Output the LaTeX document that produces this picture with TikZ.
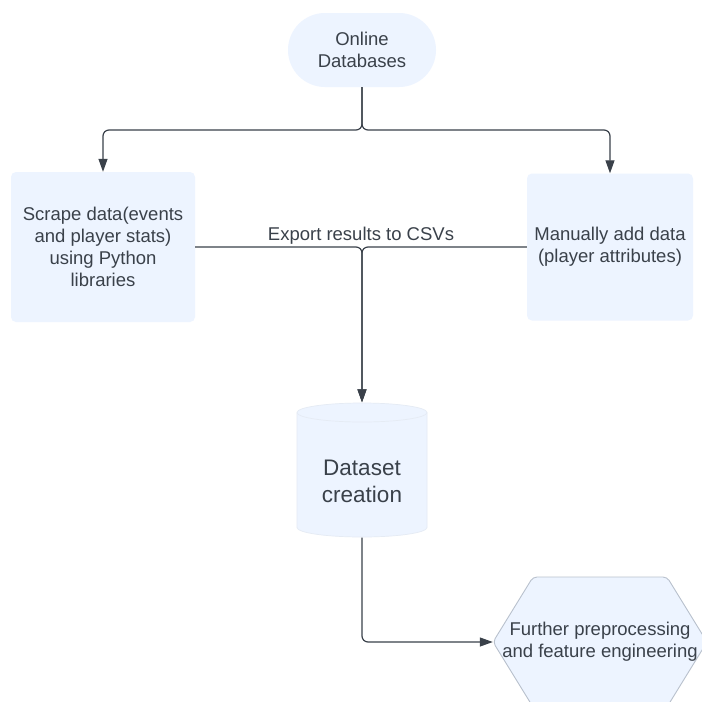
\documentclass[tikz,border=0pt]{standalone}
\usepackage{fontspec}
\setmainfont{Liberation Sans}
\usetikzlibrary{arrows.meta,calc}
\definecolor{boxfill}{RGB}{237,244,255}
\definecolor{ink}{RGB}{58,65,74}
\definecolor{hexline}{RGB}{185,193,205}
\definecolor{cylline}{RGB}{229,235,244}
\begin{document}
\begin{tikzpicture}[x=1pt,y=-1pt,
  every node/.style={font=\fontsize{18.5}{22}\selectfont, text=ink, align=center},
  conn/.style={draw=ink, line width=1.2pt, rounded corners=6pt},
  arr/.style={-{Triangle[length=13pt,width=9pt]}},
  procbox/.style={fill=boxfill, rounded corners=5pt, inner sep=0pt},
  bigtext/.style={font=\fontsize{22.5}{27}\selectfont},
  cylcap/.style={x radius=65pt, y radius=9.5pt},
]
\useasboundingbox[fill=white] (0,0) rectangle (702,702);

\node[procbox, rounded corners=37pt, minimum width=148pt, minimum height=74pt] (db) at (362,50) {Online\\Databases};
\node[procbox, minimum width=184pt, minimum height=150pt] (lbox) at (103,247) {Scrape data(events\\and player stats)\\using Python\\libraries};
\node[procbox, minimum width=166pt, minimum height=147pt] (rbox) at (610,247) {Manually add data\\(player attributes)};

% cylinder
\node[minimum width=130pt, minimum height=135pt, inner sep=0pt] (cyl) at (362,470) {};
\draw[fill=boxfill, draw=cylline, line width=0.7pt]
  (297,412.5) -- (297,527.5) arc[cylcap, start angle=180, end angle=360]
  -- (427,412.5) arc[cylcap, start angle=0, end angle=180] -- cycle;
\draw[draw=cylline, line width=0.7pt] (297,412.5) arc[cylcap, start angle=180, end angle=360];
\node[bigtext] (cyltext) at (362,481) {Dataset\\creation};

% hexagon
\coordinate (hc) at (600,642);
\draw[fill=boxfill, draw=hexline, line width=0.9pt, rounded corners=4pt]
  ($(hc)+(-107,0)$) -- ($(hc)+(-67,-65)$) -- ($(hc)+(67,-65)$) -- ($(hc)+(107,0)$)
  -- ($(hc)+(67,65)$) -- ($(hc)+(-67,65)$) -- cycle;
\node[minimum width=214pt, minimum height=130pt, inner sep=0pt] (hex) at (hc) {Further preprocessing\\and feature engineering};

\coordinate (split) at (362,130);
\coordinate (join) at (362,247);
\draw[conn, arr] (db.south) -- (split) -| (lbox.north);
\draw[conn, arr] (db.south) -- (split) -| (rbox.north);
\draw[conn, arr] (lbox.east) -- (join) -- (cyl.north);
\draw[conn, arr] (rbox.west) -- (join) -- (cyl.north);
\node (lbl) at (361,236) {Export results to CSVs};
\draw[conn, arr] (cyl.south) |- (hex.west);
\end{tikzpicture}
\end{document}
